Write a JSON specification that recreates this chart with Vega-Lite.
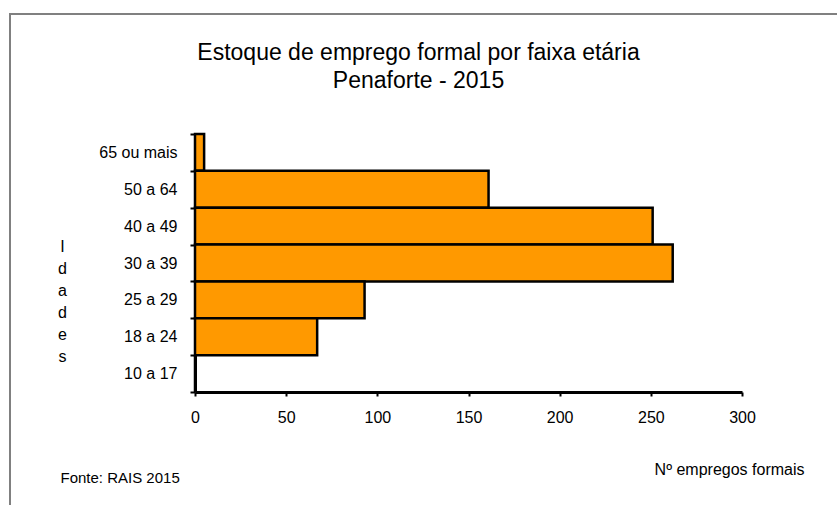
{
  "$schema": "https://vega.github.io/schema/vega-lite/v6.json",
  "width": 829,
  "height": 493,
  "autosize": {"type": "none"},
  "padding": {"left": 10, "top": 14, "right": -2, "bottom": -2},
  "background": "white",
  "title": {
    "text": ["Estoque de emprego formal por faixa etária", "Penaforte - 2015"],
    "anchor": "middle",
    "frame": "group",
    "orient": "top",
    "offset": 0,
    "baseline": "top",
    "dx": -6,
    "dy": 87,
    "font": "Liberation Sans",
    "fontSize": 23,
    "fontWeight": "normal",
    "color": "black",
    "lineHeight": 28
  },
  "data": {
    "values": [
      {"faixa": "65 ou mais", "empregos": 5},
      {"faixa": "50 a 64", "empregos": 161},
      {"faixa": "40 a 49", "empregos": 251},
      {"faixa": "30 a 39", "empregos": 262},
      {"faixa": "25 a 29", "empregos": 93},
      {"faixa": "18 a 24", "empregos": 67},
      {"faixa": "10 a 17", "empregos": 0}
    ]
  },
  "layer": [
    {
      "mark": {"type": "bar", "fill": "#FF9900", "stroke": "black", "strokeWidth": 2.5},
      "encoding": {
        "y": {
          "field": "faixa",
          "type": "nominal",
          "sort": null,
          "scale": {"range": [120, 378], "paddingInner": 0, "paddingOuter": 0},
          "axis": {
            "orient": "left",
            "offset": -185,
            "tickBand": "extent",
            "tickSize": 5,
            "tickWidth": 2,
            "tickColor": "black",
            "domainColor": "black",
            "domainWidth": 3,
            "labelPadding": 13,
            "labelFont": "Liberation Sans",
            "labelFontSize": 16,
            "labelColor": "black",
            "grid": false,
            "title": ["I", "d", "a", "d", "e", "s"],
            "titleAngle": 0,
            "titleAlign": "center",
            "titleBaseline": "middle",
            "titleX": -133,
            "titleY": 232,
            "titleFont": "Liberation Sans",
            "titleFontSize": 16,
            "titleFontWeight": "normal",
            "titleColor": "black",
            "titleLineHeight": 22
          }
        },
        "x": {
          "field": "empregos",
          "type": "quantitative",
          "scale": {"domain": [0, 300], "range": [185, 732], "nice": false, "zero": true},
          "axis": {
            "orient": "bottom",
            "offset": -115,
            "values": [0, 50, 100, 150, 200, 250, 300],
            "tickSize": 4,
            "tickWidth": 2,
            "tickColor": "black",
            "domainColor": "black",
            "domainWidth": 3,
            "labelPadding": 13,
            "labelFont": "Liberation Sans",
            "labelFontSize": 16,
            "labelColor": "black",
            "labelFlush": false,
            "grid": false,
            "title": "Nº empregos formais",
            "titleX": 794,
            "titleY": 82,
            "titleAlign": "right",
            "titleAnchor": null,
            "titleBaseline": "alphabetic",
            "titleFont": "Liberation Sans",
            "titleFontSize": 16,
            "titleFontWeight": "normal",
            "titleColor": "black"
          }
        }
      }
    },
    {
      "mark": {"type": "bar", "opacity": 0},
      "encoding": {
        "y": {"field": "faixa", "type": "nominal", "sort": null},
        "x": {
          "field": "empregos",
          "type": "quantitative",
          "axis": {
            "orient": "top",
            "offset": 0,
            "domain": false,
            "ticks": false,
            "labels": false,
            "grid": false,
            "title": "Fonte: RAIS 2015",
            "titleX": 50,
            "titleY": 468,
            "titleAlign": "left",
            "titleAnchor": null,
            "titleBaseline": "alphabetic",
            "titleFont": "Liberation Sans",
            "titleFontSize": 15,
            "titleFontWeight": "normal",
            "titleColor": "black"
          }
        }
      }
    }
  ],
  "resolve": {"axis": {"x": "independent"}},
  "config": {
    "view": {"stroke": "#808080", "strokeWidth": 2}
  }
}
